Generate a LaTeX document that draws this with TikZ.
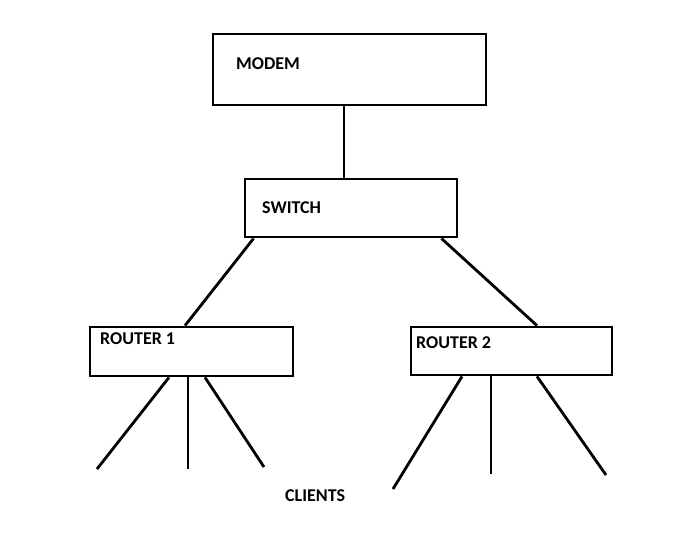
\documentclass[tikz,border=0pt]{standalone}
\usepackage{fontspec}
\setmainfont{Carlito}
\begin{document}
\begin{tikzpicture}[x=1pt,y=-1pt,
  box/.style={draw=black,line width=2.8pt,rectangle,inner sep=0pt,fill=white},
  lbl/.style={anchor=west,inner sep=0pt,font=\fontsize{18}{20}\selectfont\bfseries},
  wire/.style={draw=black,line width=2.8pt}]
\useasboundingbox[fill=white] (0,0) rectangle (682,542);
% boxes
\node[box,minimum width=273pt,minimum height=71pt] (modem) at (349.5,69.5) {};
\node[box,minimum width=212pt,minimum height=58pt] (switch) at (351,208) {};
\node[box,minimum width=203pt,minimum height=49pt] (router1) at (191.5,351.5) {};
\node[box,minimum width=201pt,minimum height=48pt] (router2) at (511.5,351) {};
% labels
\node[lbl] (tmodem) at (236,64) {MODEM};
\node[lbl] (tswitch) at (262,208) {SWITCH};
\node[lbl] (trouter1) at (100,339) {ROUTER 1};
\node[lbl] (trouter2) at (416,343) {ROUTER 2};
\node[lbl] (tclients) at (285,496) {CLIENTS};
% client end points
\coordinate (c1) at (97,469);
\coordinate (c2) at (188,469);
\coordinate (c3) at (264,467);
\coordinate (c4) at (393,489);
\coordinate (c5) at (491,474);
\coordinate (c6) at (606,475);
% connectors
\draw[wire] ([xshift=-5.5pt]modem.south) -- ([xshift=-7pt]switch.north);
\draw[wire] ([xshift=10pt]switch.south west) -- ([xshift=-6.5pt]router1.north);
\draw[wire] ([xshift=-17pt]switch.south east) -- ([xshift=25.5pt]router2.north);
\draw[wire] ([xshift=-22.5pt]router1.south) -- (c1);
\draw[wire] ([xshift=-3.5pt]router1.south) -- (c2);
\draw[wire] ([xshift=13.5pt]router1.south) -- (c3);
\draw[wire] ([xshift=-49.5pt]router2.south) -- (c4);
\draw[wire] ([xshift=-20.5pt]router2.south) -- (c5);
\draw[wire] ([xshift=25.5pt]router2.south) -- (c6);
\end{tikzpicture}
\end{document}
